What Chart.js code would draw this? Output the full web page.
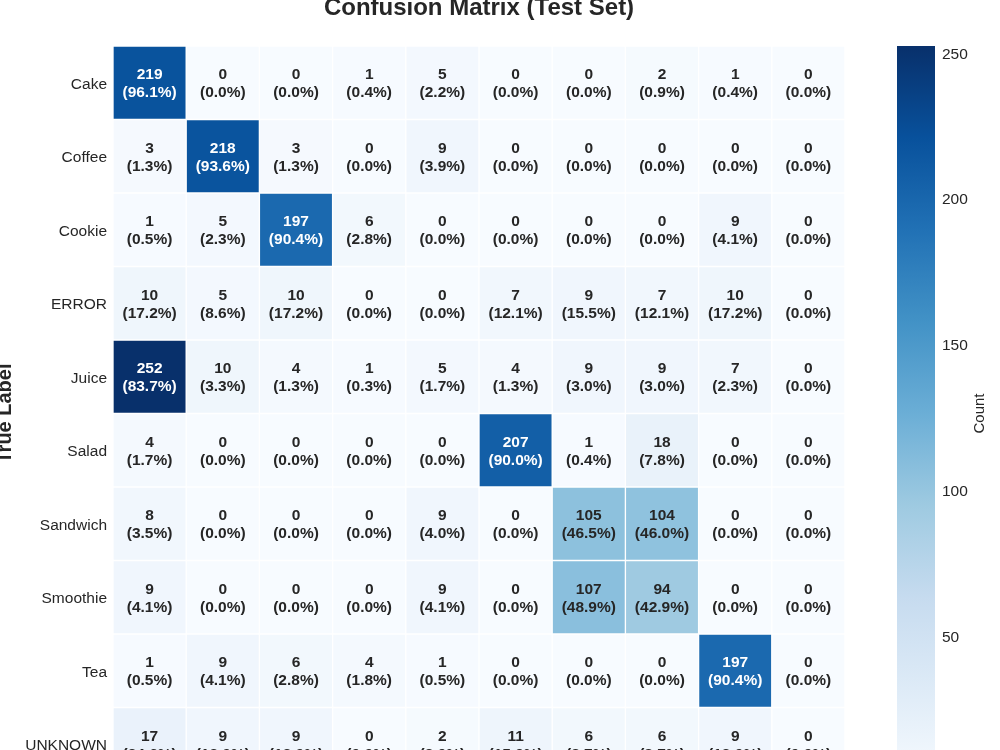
<!DOCTYPE html>
<html>
<head>
<meta charset="utf-8">
<script src="https://cdn.jsdelivr.net/npm/chart.js@4.4.1/dist/chart.umd.min.js"></script>
<style>
  html, body { margin: 0; padding: 0; background: #fff; }
  body { width: 1000px; height: 750px; overflow: hidden; position: relative; }
  #heat { position: absolute; left: -7px; top: -10px; }
  #cbar { position: absolute; left: 890px; top: -10px; }
</style>
</head>
<body>
<canvas id="heat" width="860" height="800"></canvas>
<canvas id="cbar" width="110" height="800"></canvas>
<script>
const rowLabels = ["Cake", "Coffee", "Cookie", "ERROR", "Juice", "Salad", "Sandwich", "Smoothie", "Tea", "UNKNOWN"];
const colLabels = ["Cake", "Coffee", "Cookie", "ERROR", "Juice", "Salad", "Sandwich", "Smoothie", "Tea", "UNKNOWN"];

const rowCake     = [219, 0, 0, 1, 5, 0, 0, 2, 1, 0];
const rowCoffee   = [3, 218, 3, 0, 9, 0, 0, 0, 0, 0];
const rowCookie   = [1, 5, 197, 6, 0, 0, 0, 0, 9, 0];
const rowError    = [10, 5, 10, 0, 0, 7, 9, 7, 10, 0];
const rowJuice    = [252, 10, 4, 1, 5, 4, 9, 9, 7, 0];
const rowSalad    = [4, 0, 0, 0, 0, 207, 1, 18, 0, 0];
const rowSandwich = [8, 0, 0, 0, 9, 0, 105, 104, 0, 0];
const rowSmoothie = [9, 0, 0, 0, 9, 0, 107, 94, 0, 0];
const rowTea      = [1, 9, 6, 4, 1, 0, 0, 0, 197, 0];
const rowUnknown  = [17, 9, 9, 0, 2, 11, 6, 6, 9, 0];

const cbTicks = [0, 50, 100, 150, 200, 250];

const matrix = [rowCake, rowCoffee, rowCookie, rowError, rowJuice, rowSalad, rowSandwich, rowSmoothie, rowTea, rowUnknown];
const vmax = Math.max(...matrix.flat());

const FONT = '"Liberation Sans", Arial, Helvetica, sans-serif';
const INK = "#262626";
// matplotlib "Blues"
const BLUES = ["#f7fbff", "#deebf7", "#c6dbef", "#9ecae1", "#6baed6", "#4292c6", "#2171b5", "#08519c", "#08306b"];

function hexRgb(h) {
  return [1, 3, 5].map((i) => parseInt(h.slice(i, i + 2), 16));
}

function blues(t) {
  t = Math.min(1, Math.max(0, t));
  const p = t * (BLUES.length - 1);
  const k = Math.min(BLUES.length - 2, Math.floor(p));
  const f = p - k;
  const a = hexRgb(BLUES[k]), b = hexRgb(BLUES[k + 1]);
  return a.map((c, i) => Math.round(c + (b[i] - c) * f));
}

function rgbStr(c) {
  return `rgb(${c[0]},${c[1]},${c[2]})`;
}

// same rule seaborn uses to pick the annotation colour
function textColor(v) {
  const lin = blues(v / vmax).map((c) => {
    c /= 255;
    return c <= 0.03928 ? c / 12.92 : Math.pow((c + 0.055) / 1.055, 2.4);
  });
  const lum = 0.2126 * lin[0] + 0.7152 * lin[1] + 0.0722 * lin[2];
  return lum > 0.408 ? INK : "#ffffff";
}

// tick labels near the edges must not shrink the plot area
function noEdgePad(s) {
  s.paddingTop = 0;
  s.paddingBottom = 0;
}

const cellText = {
  id: "cellText",
  afterDatasetsDraw(chart) {
    const { ctx, scales: { x, y } } = chart;
    ctx.save();
    ctx.textAlign = "center";
    ctx.textBaseline = "middle";
    ctx.font = `bold 15.5px ${FONT}`;
    matrix.forEach((row, i) => {
      const total = row.reduce((a, b) => a + b, 0);
      row.forEach((v, j) => {
        const cx = x.getPixelForValue(j);
        const cy = y.getPixelForValue(i + 0.5);
        const pct = total ? (v / total * 100).toFixed(1) : "0.0";
        ctx.fillStyle = textColor(v);
        ctx.fillText(String(v), cx, cy - 8);
        ctx.fillText(`(${pct}%)`, cx, cy + 10);
      });
    });
    ctx.restore();
  },
};

new Chart(document.getElementById("heat"), {
  type: "bar",
  data: {
    labels: colLabels,
    datasets: matrix.map((row, i) => ({
      label: rowLabels[i],
      data: row.map(() => [i, i + 1]),
      backgroundColor: row.map((v) => rgbStr(blues(v / vmax))),
      borderColor: "#ffffff",
      borderWidth: 1,
      borderSkipped: false,
      grouped: false,
      categoryPercentage: 1,
      barPercentage: 1,
    })),
  },
  options: {
    responsive: false,
    animation: false,
    layout: { padding: { left: 0, top: 0, right: 8, bottom: 9 } },
    plugins: {
      legend: { display: false },
      tooltip: { enabled: false },
      title: {
        display: true,
        text: "Confusion Matrix (Test Set)",
        fullSize: false,
        color: INK,
        font: { family: FONT, size: 24, weight: "bold" },
        padding: { top: 4, bottom: 23.2 },
      },
    },
    scales: {
      x: { display: false, offset: true },
      y: {
        min: 0,
        max: rowLabels.length,
        reverse: true,
        afterBuildTicks: (s) => { s.ticks = rowLabels.map((_, i) => ({ value: i + 0.5 })); },
        afterFit: (s) => { s.width = 120; noEdgePad(s); },
        grid: { display: false, drawTicks: false },
        border: { display: false },
        ticks: {
          autoSkip: false,
          padding: 6,
          labelOffset: 1.5,
          color: INK,
          font: { family: FONT, size: 15.5 },
          callback: (v) => rowLabels[Math.floor(v)],
        },
        title: {
          display: true,
          text: "True Label",
          color: INK,
          font: { family: FONT, size: 20, weight: "bold" },
          padding: 0,
        },
      },
    },
  },
  plugins: [cellText],
});

const cbLabel = {
  id: "cbLabel",
  afterDraw(chart) {
    const { ctx, chartArea } = chart;
    ctx.save();
    ctx.translate(chart.scales.y.right - 20, (chartArea.top + chartArea.bottom) / 2);
    ctx.rotate(-Math.PI / 2);
    ctx.textAlign = "center";
    ctx.textBaseline = "middle";
    ctx.fillStyle = INK;
    ctx.font = `15px ${FONT}`;
    ctx.fillText("Count", 0, 0);
    ctx.restore();
  },
};

new Chart(document.getElementById("cbar"), {
  type: "bar",
  data: {
    labels: ["Count"],
    datasets: [{
      data: [[0, vmax]],
      backgroundColor: (c) => {
        const chart = c.chart;
        if (!chart.chartArea) return BLUES[4];
        const ys = chart.scales.y;
        const g = chart.ctx.createLinearGradient(0, ys.getPixelForValue(0), 0, ys.getPixelForValue(vmax));
        BLUES.forEach((col, k) => g.addColorStop(k / (BLUES.length - 1), col));
        return g;
      },
      borderWidth: 0,
      categoryPercentage: 1,
      barPercentage: 1,
    }],
  },
  options: {
    responsive: false,
    animation: false,
    layout: { padding: { left: 7, top: 56, right: 0, bottom: 9 } },
    plugins: { legend: { display: false }, tooltip: { enabled: false } },
    scales: {
      x: { display: false },
      y: {
        position: "right",
        min: 0,
        max: vmax,
        afterBuildTicks: (s) => { s.ticks = cbTicks.map((v) => ({ value: v })); },
        afterFit: (s) => { s.width = 65; noEdgePad(s); },
        grid: { display: false, drawTicks: false },
        border: { display: false },
        ticks: { padding: 7, labelOffset: 2.5, color: INK, font: { family: FONT, size: 15.5 } },
      },
    },
  },
  plugins: [cbLabel],
});
</script>
</body>
</html>
